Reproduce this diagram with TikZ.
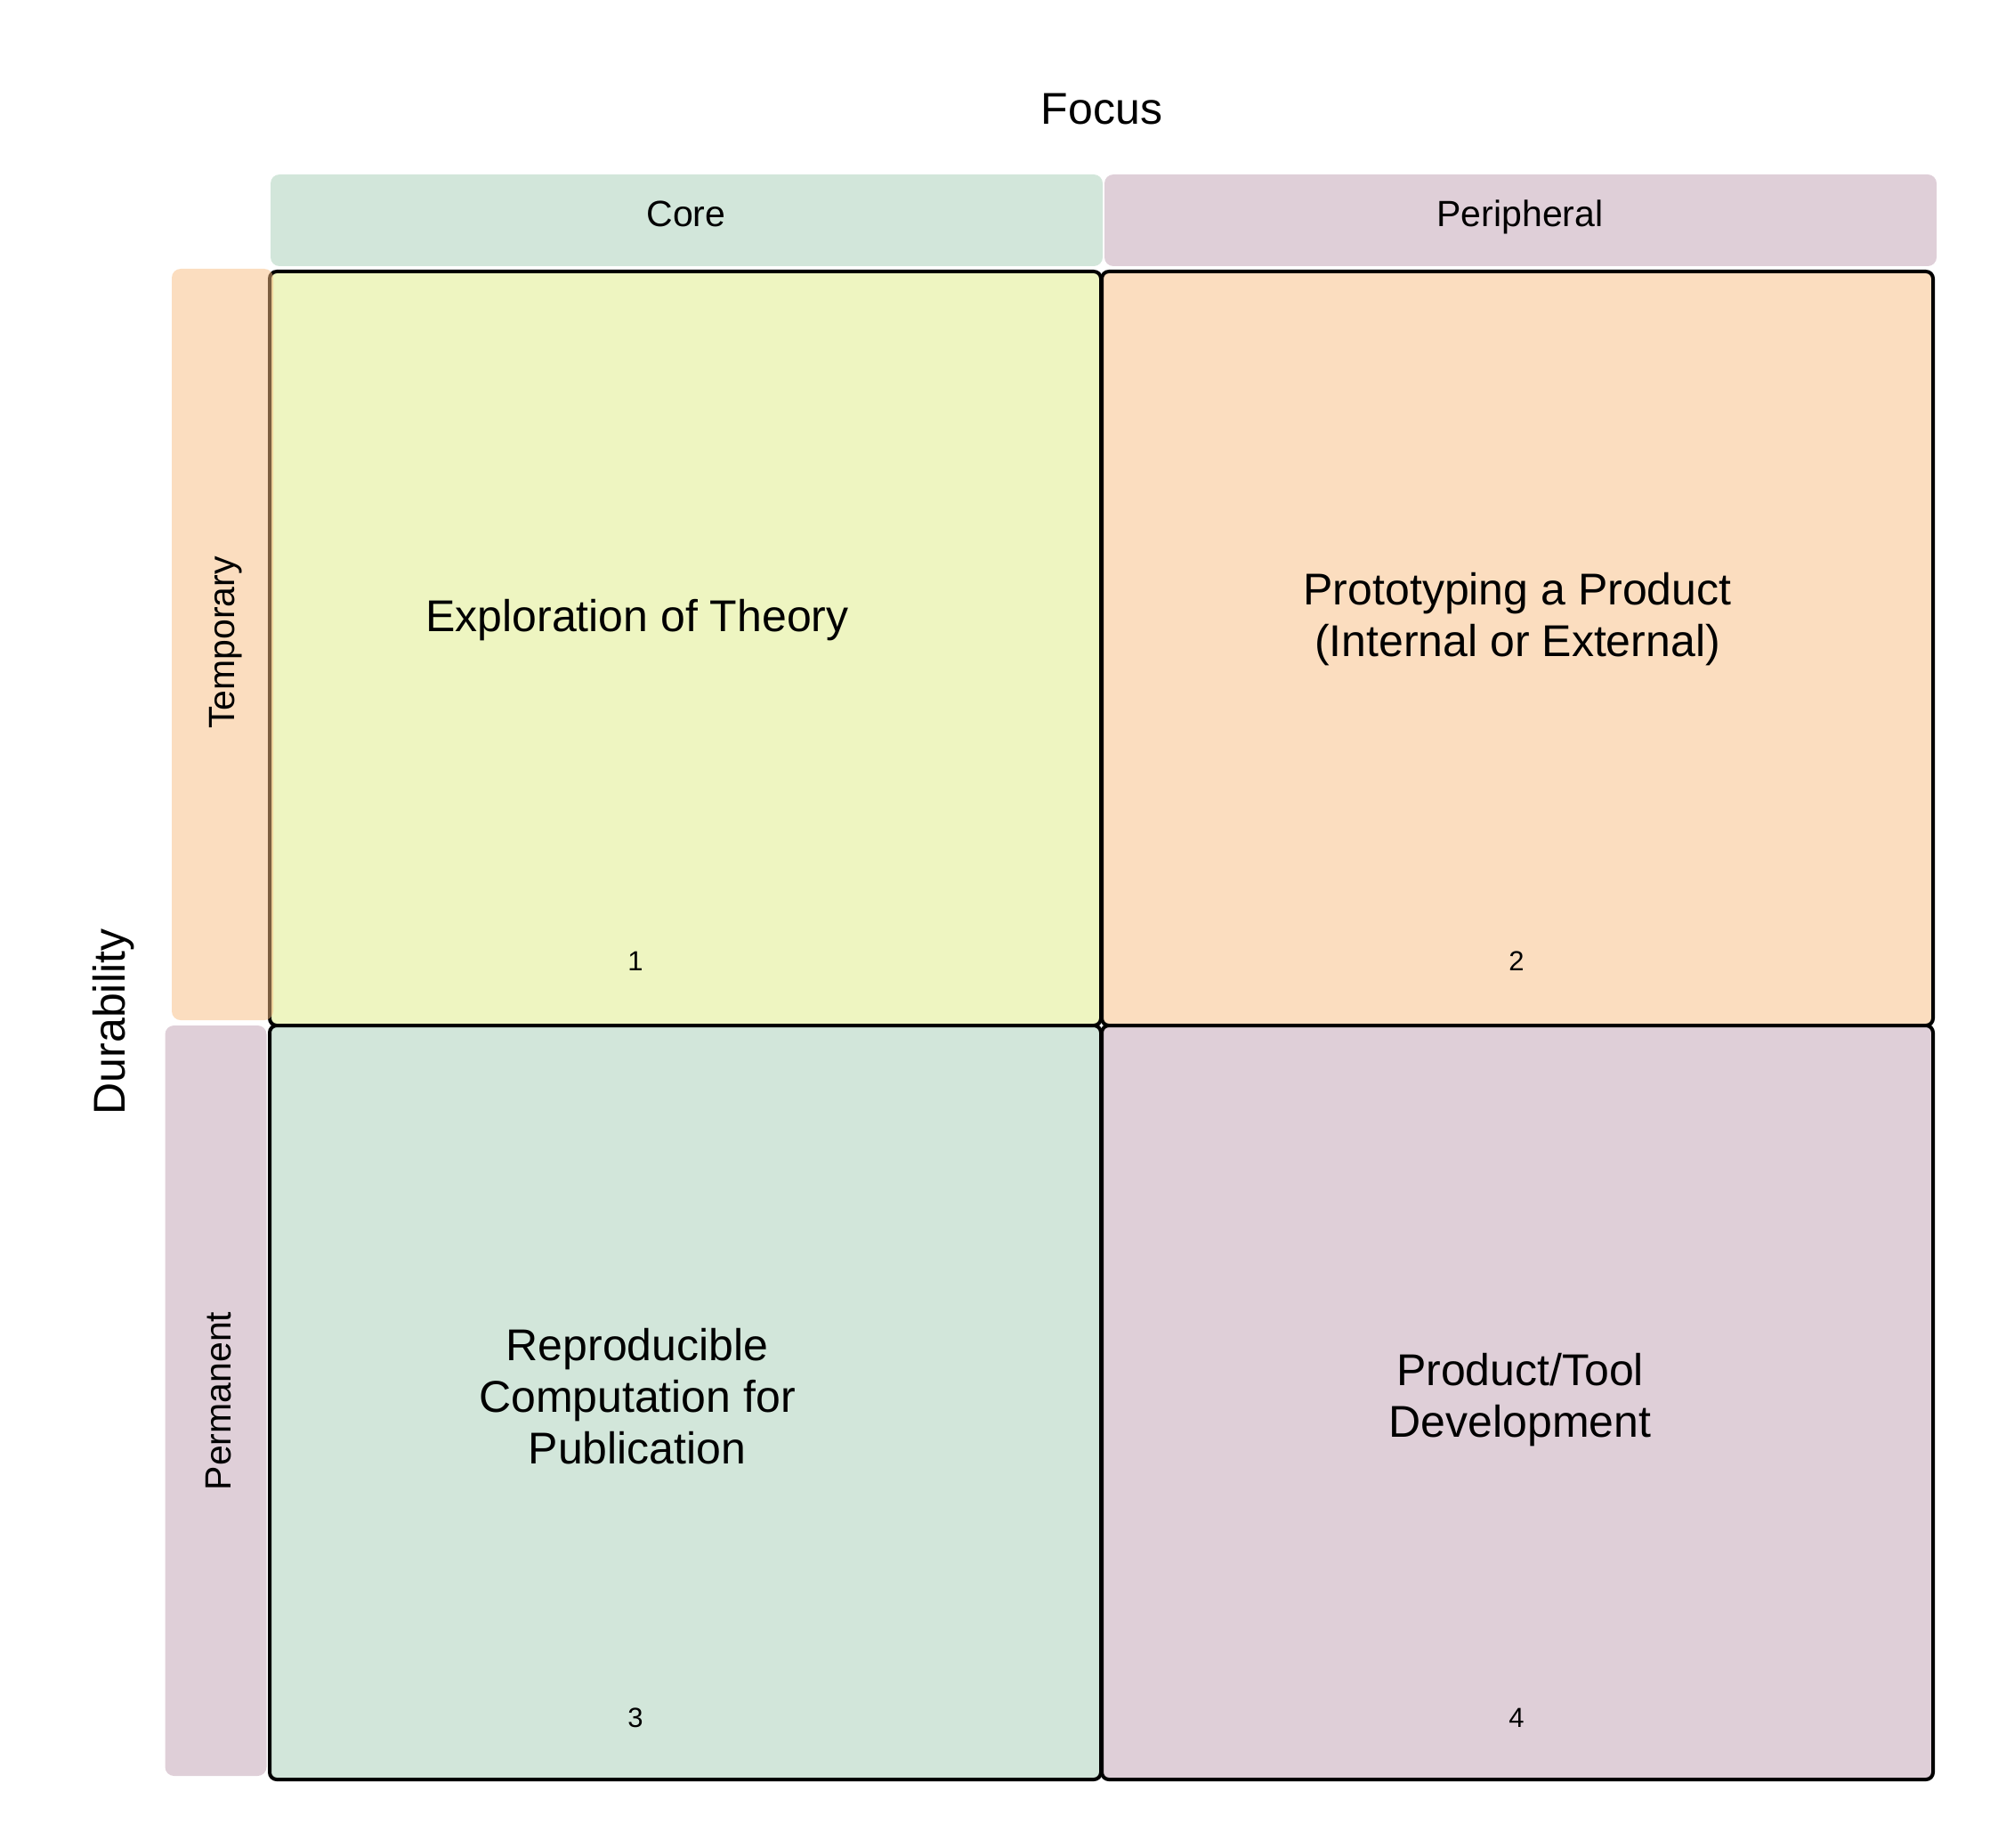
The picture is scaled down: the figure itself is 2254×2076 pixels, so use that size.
\documentclass[tikz,border=0pt]{standalone}
\usepackage{fontspec}
\setmainfont{Liberation Sans}
\definecolor{cellYellow}{RGB}{238,245,193}
\definecolor{cellOrange}{RGB}{251,221,191}
\definecolor{cellGreen}{RGB}{210,230,218}
\definecolor{cellPurple}{RGB}{223,207,216}
% band colours, laid down at half opacity
\definecolor{bandOrange}{RGB}{247,187,127}
\definecolor{bandGreen}{RGB}{165,205,181}
\definecolor{bandPurple}{RGB}{191,159,177}
\begin{document}
\begin{tikzpicture}[x=0.5pt,y=-0.5pt,
  cell/.style={draw=black, line width=2pt, rounded corners=4pt, inner sep=0pt,
    outer sep=0pt, minimum width=467pt, minimum height=423.5pt},
  hband/.style={rounded corners=5pt, inner sep=0pt, outer sep=0pt,
    fill opacity=0.5, minimum width=467.5pt, minimum height=51.5pt},
  vband/.style={rounded corners=5pt, inner sep=0pt, outer sep=0pt,
    fill opacity=0.5, minimum width=57pt, minimum height=422pt},
  axislabel/.style={font=\fontsize{25}{29}\selectfont, anchor=base, inner sep=0pt},
  bandlabel/.style={font=\fontsize{20.5}{24}\selectfont, anchor=base, inner sep=0pt},
  celltext/.style={font=\fontsize{25}{29}\selectfont, align=center, anchor=base, inner sep=0pt},
  cellnum/.style={font=\fontsize{15.5}{18}\selectfont, anchor=base, inner sep=0pt}]
\useasboundingbox (0,0) rectangle (2254,2076);

% quadrants
\node[cell, fill=cellYellow] (q1) at (770,728.5) {};
\node[cell, fill=cellOrange] (q2) at (1705,728.5) {};
\node[cell, fill=cellGreen]  (q3) at (770,1575.5) {};
\node[cell, fill=cellPurple] (q4) at (1705,1575.5) {};

% column and row bands
\node[hband, fill=bandGreen]  (core) at (771.5,247.5) {};
\node[hband, fill=bandPurple] (peri) at (1708.5,247.5) {};
\node[vband, fill=bandOrange] (temp) at (250,724) {};
\node[vband, fill=bandPurple, minimum height=421.5pt] (perm) at (242.5,1573.5) {};

% axis titles
\node[axislabel] (focus) at (1238,140) {Focus};
\node[axislabel, rotate=90] (dur) at (140,1148) {Durability};

% band labels
\node[bandlabel] (coreL) at (771,255) {Core};
\node[bandlabel] (periL) at (1708,255) {Peripheral};
\node[bandlabel, rotate=90] (tempL) at (263,722) {Temporary};
\node[bandlabel, rotate=90] (permL) at (259,1574) {Permanent};

% quadrant contents (base sits on the last line)
\node[celltext] (t1) at (716,709) {Exploration of Theory};
\node[celltext] (t2) at (1705,737) {Prototyping a Product\\(Internal or External)};
\node[celltext] (t3) at (716,1644) {Reproducible\\Computation for\\Publication};
\node[celltext] (t4) at (1708,1614) {Product/Tool\\Development};

\node[cellnum] (n1) at (714,1090) {1};
\node[cellnum] (n2) at (1704,1090) {2};
\node[cellnum] (n3) at (714,1940) {3};
\node[cellnum] (n4) at (1704,1940) {4};
\end{tikzpicture}
\end{document}
